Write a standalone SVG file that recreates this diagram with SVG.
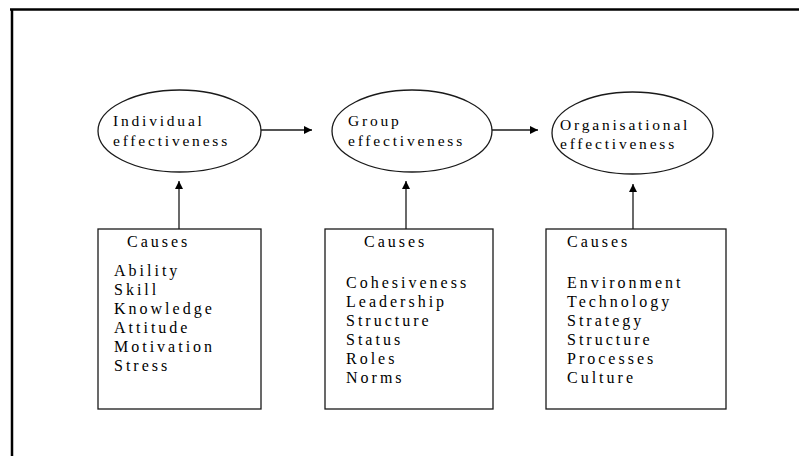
<svg xmlns="http://www.w3.org/2000/svg" width="799" height="456" viewBox="0 0 799 456">
<style>
.frame{stroke:#000;stroke-width:2.5;fill:none}
.shape{fill:#fff;stroke:#1a1a1a;stroke-width:1.3}
.conn{stroke:#1a1a1a;stroke-width:1.3;fill:none}
text{font-family:"Liberation Serif","Times New Roman",serif;font-size:16px;fill:#000;letter-spacing:3px}
.el text{font-size:15.5px;letter-spacing:2.8px}
</style>
<defs>
<marker id="ah" viewBox="0 0 10 10" refX="10" refY="5" markerWidth="8" markerHeight="8" markerUnits="userSpaceOnUse" orient="auto">
<path d="M0,0 L10,5 L0,10 Z" fill="#000"/>
</marker>
</defs>
<g id="frame">
<line class="frame" x1="10" y1="9.5" x2="799" y2="9.5"/>
<line class="frame" x1="12" y1="9" x2="12" y2="456"/>
</g>
<g id="connectors">
<line class="conn" x1="261" y1="130" x2="312" y2="130" marker-end="url(#ah)"/>
<line class="conn" x1="492" y1="130" x2="538" y2="130" marker-end="url(#ah)"/>
<line class="conn" x1="179" y1="229" x2="179" y2="181" marker-end="url(#ah)"/>
<line class="conn" x1="406" y1="229" x2="406" y2="181" marker-end="url(#ah)"/>
<line class="conn" x1="633" y1="229" x2="633" y2="184" marker-end="url(#ah)"/>
</g>
<g id="individual" class="el">
<ellipse class="shape" cx="179.5" cy="131" rx="81.5" ry="41"/>
<text x="113" y="126">Individual</text>
<text x="113" y="146">effectiveness</text>
</g>
<g id="group" class="el">
<ellipse class="shape" cx="412" cy="131" rx="80" ry="41"/>
<text x="348" y="126">Group</text>
<text x="348" y="146">effectiveness</text>
</g>
<g id="organisational" class="el">
<ellipse class="shape" cx="632.5" cy="133" rx="80.5" ry="41"/>
<text x="560" y="130">Organisational</text>
<text x="560" y="149">effectiveness</text>
</g>
<g id="causes-individual">
<rect class="shape" x="98" y="229" width="163" height="180"/>
<text x="127" y="247">Causes</text>
<text x="114" y="276">Ability</text>
<text x="114" y="295">Skill</text>
<text x="114" y="314">Knowledge</text>
<text x="114" y="333">Attitude</text>
<text x="114" y="352">Motivation</text>
<text x="114" y="371">Stress</text>
</g>
<g id="causes-group">
<rect class="shape" x="325" y="229" width="168" height="180"/>
<text x="364" y="247">Causes</text>
<text x="346" y="288">Cohesiveness</text>
<text x="346" y="307">Leadership</text>
<text x="346" y="326">Structure</text>
<text x="346" y="345">Status</text>
<text x="346" y="364">Roles</text>
<text x="346" y="383">Norms</text>
</g>
<g id="causes-organisational">
<rect class="shape" x="546" y="229" width="180" height="180"/>
<text x="567" y="247">Causes</text>
<text x="567" y="288">Environment</text>
<text x="567" y="307">Technology</text>
<text x="567" y="326">Strategy</text>
<text x="567" y="345">Structure</text>
<text x="567" y="364">Processes</text>
<text x="567" y="383">Culture</text>
</g>
</svg>
